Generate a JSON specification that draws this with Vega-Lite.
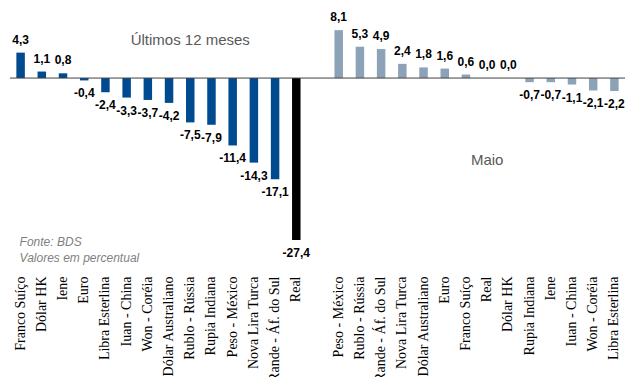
{
  "$schema": "https://vega.github.io/schema/vega-lite/v6.json",
  "width": 615,
  "height": 272,
  "padding": {"left": 9, "top": 0, "right": 0, "bottom": 0},
  "config": {
    "view": {"stroke": null},
    "locale": {"number": {"decimal": ",", "thousands": ".", "grouping": [3], "currency": ["", ""], "minus": "-"}},
    "font": "Liberation Sans"
  },
  "data": {"values": [
    {"k": "Franco Suíço|L", "serie": "12m", "v": 4.3},
    {"k": "Dólar HK|L", "serie": "12m", "v": 1.1},
    {"k": "Iene|L", "serie": "12m", "v": 0.8},
    {"k": "Euro|L", "serie": "12m", "v": -0.4},
    {"k": "Libra Esterlina|L", "serie": "12m", "v": -2.4},
    {"k": "Iuan - China|L", "serie": "12m", "v": -3.3},
    {"k": "Won - Coréia|L", "serie": "12m", "v": -3.7},
    {"k": "Dólar Australiano|L", "serie": "12m", "v": -4.2},
    {"k": "Rublo - Rússia|L", "serie": "12m", "v": -7.5},
    {"k": "Rupia Indiana|L", "serie": "12m", "v": -7.9},
    {"k": "Peso - México|L", "serie": "12m", "v": -11.4},
    {"k": "Nova Lira Turca|L", "serie": "12m", "v": -14.3},
    {"k": "Rande - Áf. do Sul|L", "serie": "12m", "v": -17.1},
    {"k": "Real|L", "serie": "12m", "v": -27.4},
    {"k": "Peso - México|R", "serie": "Maio", "v": 8.1},
    {"k": "Rublo - Rússia|R", "serie": "Maio", "v": 5.3},
    {"k": "Rande - Áf. do Sul|R", "serie": "Maio", "v": 4.9},
    {"k": "Nova Lira Turca|R", "serie": "Maio", "v": 2.4},
    {"k": "Dólar Australiano|R", "serie": "Maio", "v": 1.8},
    {"k": "Euro|R", "serie": "Maio", "v": 1.6},
    {"k": "Franco Suíço|R", "serie": "Maio", "v": 0.6},
    {"k": "Real|R", "serie": "Maio", "v": 0.0},
    {"k": "Dólar HK|R", "serie": "Maio", "v": 0.0},
    {"k": "Rupia Indiana|R", "serie": "Maio", "v": -0.7},
    {"k": "Iene|R", "serie": "Maio", "v": -0.7},
    {"k": "Iuan - China|R", "serie": "Maio", "v": -1.1},
    {"k": "Won - Coréia|R", "serie": "Maio", "v": -2.1},
    {"k": "Libra Esterlina|R", "serie": "Maio", "v": -2.2}
  ]},
  "encoding": {
    "x": {
      "field": "k", "type": "nominal",
      "scale": {
        "type": "band", "paddingInner": 0.6, "paddingOuter": 0.3,
        "domain": ["Franco Suíço|L", "Dólar HK|L", "Iene|L", "Euro|L", "Libra Esterlina|L", "Iuan - China|L", "Won - Coréia|L", "Dólar Australiano|L", "Rublo - Rússia|L", "Rupia Indiana|L", "Peso - México|L", "Nova Lira Turca|L", "Rande - Áf. do Sul|L", "Real|L", "|gap", "Peso - México|R", "Rublo - Rússia|R", "Rande - Áf. do Sul|R", "Nova Lira Turca|R", "Dólar Australiano|R", "Euro|R", "Franco Suíço|R", "Real|R", "Dólar HK|R", "Rupia Indiana|R", "Iene|R", "Iuan - China|R", "Won - Coréia|R", "Libra Esterlina|R"]
      },
      "axis": {
        "title": null, "domain": false, "ticks": false, "labelAngle": -90,
        "labelAlign": "right", "labelBaseline": "middle",
        "labelPadding": 4, "labelFont": "Liberation Sans Narrow", "labelFontSize": 14,
        "labelColor": "#000000", "labelOverlap": false,
        "labelExpr": "split(datum.value, '|')[0]"
      }
    },
    "y": {
      "field": "v", "type": "quantitative",
      "scale": {"domain": [-32.8, 13.2], "nice": false, "zero": false},
      "axis": null
    }
  },
  "layer": [
    {
      "mark": {"type": "bar"},
      "encoding": {
        "color": {
          "condition": {"test": "datum.k === 'Real|L'", "value": "#000000"},
          "field": "serie", "type": "nominal",
          "scale": {"domain": ["12m", "Maio"], "range": ["#004a8f", "#8ca2b7"]},
          "legend": null
        }
      }
    },
    {
      "transform": [{"filter": "datum.k === 'Franco Suíço|L'"}],
      "mark": {"type": "rule", "color": "#404040", "strokeWidth": 1},
      "encoding": {"y": {"datum": 0}, "x": null}
    },
    {
      "transform": [{"filter": "datum.v >= 0"}],
      "mark": {"type": "text", "baseline": "bottom", "dy": -6, "fontSize": 12, "fontWeight": "bold", "color": "#000000"},
      "encoding": {"text": {"field": "v", "type": "quantitative", "format": ".1f"}}
    },
    {
      "transform": [{"filter": "datum.v < 0"}],
      "mark": {"type": "text", "baseline": "top", "dy": 8, "fontSize": 12, "fontWeight": "bold", "color": "#000000"},
      "encoding": {"text": {"field": "v", "type": "quantitative", "format": ".1f"}}
    },
    {
      "transform": [{"filter": "datum.k === 'Rublo - Rússia|L'"}],
      "mark": {"type": "text", "text": "Últimos 12 meses", "fontSize": 15, "color": "#595959", "baseline": "middle", "align": "center"},
      "encoding": {"y": {"datum": 6.4}}
    },
    {
      "transform": [{"filter": "datum.k === 'Real|R'"}],
      "mark": {"type": "text", "text": "Maio", "fontSize": 15, "color": "#595959", "baseline": "middle", "align": "center"},
      "encoding": {"y": {"datum": -13.9}}
    },
    {
      "transform": [{"filter": "datum.k === 'Franco Suíço|L'"}],
      "mark": {"type": "text", "text": "Fonte: BDS", "fontSize": 12, "fontStyle": "italic", "color": "#7f7f7f", "baseline": "middle", "align": "left", "dx": -1},
      "encoding": {"y": {"datum": -27.7}}
    },
    {
      "transform": [{"filter": "datum.k === 'Franco Suíço|L'"}],
      "mark": {"type": "text", "text": "Valores em percentual", "fontSize": 12, "fontStyle": "italic", "color": "#7f7f7f", "baseline": "middle", "align": "left", "dx": -1},
      "encoding": {"y": {"datum": -30.4}}
    }
  ]
}
